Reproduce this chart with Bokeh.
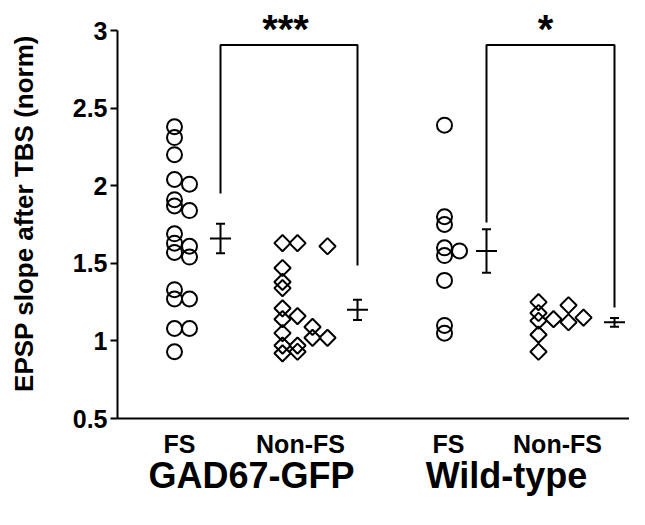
import numpy as np
from bokeh.plotting import figure
from bokeh.models import Range1d, FixedTicker, LinearAxis
from bokeh.embed import file_html
from bokeh.resources import INLINE
from bokeh.core.properties import value

# ---------------- data ----------------
categories = ["FS", "Non-FS", "FS", "Non-FS"]
groups = ["GAD67-GFP", "Wild-type"]
y_ticks = [0.5, 1, 1.5, 2, 2.5, 3]

gad_fs = [2.38, 2.31, 2.20, 2.04, 1.91, 1.87, 1.69, 1.63, 1.57, 1.33, 1.27, 1.08, 0.93,
          2.01, 1.84, 1.61, 1.54, 1.27, 1.08]
gad_fs_col = [0] * 13 + [1] * 6

gad_nonfs = [1.63, 1.47, 1.38, 1.34, 1.21, 1.14, 1.05, 0.97, 0.92,
             1.63, 1.16, 0.97, 0.93,
             1.09, 1.02,
             1.61, 1.02]
gad_nonfs_col = [0] * 9 + [1] * 4 + [2] * 2 + [3] * 2

wt_fs = [2.39, 1.80, 1.75, 1.60, 1.55, 1.39, 1.10, 1.05, 1.58]
wt_fs_col = [0] * 8 + [1]

wt_nonfs = [1.25, 1.18, 1.13, 1.04, 0.93, 1.14, 1.23, 1.12, 1.15]
wt_nonfs_col = [0] * 5 + [1] + [2] * 2 + [3]

means = [1.66, 1.20, 1.58, 1.12]
sems = [0.095, 0.065, 0.14, 0.028]

stars = ["***", "*"]
bracket_top = 2.907
bracket_left_bottom = [1.95, 1.763]
bracket_right_bottom = [1.486, 1.215]

# ---------------- layout (x in px-like units from the y axis) ----------------
cat_x = [62, 183, 331, 440]
group_x = [134, 389]
col0_x = [57, 165, 327, 421]
col_step = 15
err_x = [103, 240, 369, 497]
star_x = [168, 428]

FONT = "Liberation Sans"

p = figure(width=629, height=509, output_backend="svg", toolbar_location=None,
           x_range=Range1d(0, 512), y_range=Range1d(0.5, 3.142),
           min_border_left=117, min_border_right=0, min_border_top=8,
           min_border_bottom=91)
p.outline_line_color = None
p.grid.visible = False
p.background_fill_color = "white"

# y axis
ya = p.yaxis[0]
ya.ticker = FixedTicker(ticks=y_ticks)
ya.major_label_overrides = {0.5: "0.5", 1: "1", 1.5: "1.5", 2: "2", 2.5: "2.5", 3: "3"}
ya.bounds = (0.5, 3)
ya.axis_line_width = 2
ya.major_tick_line_width = 2
ya.major_tick_out = 7
ya.major_tick_in = 0
ya.minor_tick_out = 0
ya.minor_tick_in = 0
ya.major_label_standoff = 3
ya.major_label_text_font = FONT
ya.major_label_text_font_style = "bold"
ya.major_label_text_font_size = "25px"
ya.major_label_text_color = "black"
ya.axis_label = "EPSP slope after TBS (norm)"
ya.axis_label_text_font = FONT
ya.axis_label_text_font_style = "bold"
ya.axis_label_text_font_size = "26px"
ya.axis_label_text_color = "black"
ya.axis_label_standoff = 31

# x axis: only the line plus category labels
xa = p.xaxis[0]
xa.ticker = FixedTicker(ticks=cat_x)
xa.major_label_overrides = {cx: c for cx, c in zip(cat_x, categories)}
xa.axis_line_width = 2
xa.major_tick_out = 0
xa.major_tick_in = 0
xa.minor_tick_out = 0
xa.minor_tick_in = 0
xa.major_label_standoff = 11
xa.major_label_text_font = FONT
xa.major_label_text_font_style = "bold"
xa.major_label_text_font_size = "25px"
xa.major_label_text_color = "black"

# second axis below for the group names
xg = LinearAxis(ticker=FixedTicker(ticks=group_x),
                major_label_overrides={gx: g for gx, g in zip(group_x, groups)})
xg.axis_line_color = None
xg.major_tick_out = 0
xg.major_tick_in = 0
xg.minor_tick_out = 0
xg.minor_tick_in = 0
xg.major_label_standoff = -6
xg.major_label_text_font = FONT
xg.major_label_text_font_style = "bold"
xg.major_label_text_font_size = "36px"
xg.major_label_text_color = "black"
p.add_layout(xg, "below")

# points
def xs(i, cols):
    return [col0_x[i] + c * col_step for c in cols]

p.scatter(xs(0, gad_fs_col), gad_fs, marker="circle", size=15, line_width=2,
          line_color="black", fill_color=None)
p.scatter(xs(2, wt_fs_col), wt_fs, marker="circle", size=15, line_width=2,
          line_color="black", fill_color=None)
p.scatter(xs(1, gad_nonfs_col), gad_nonfs, marker="square", angle=np.pi / 4, size=11.5,
          line_width=2, line_color="black", fill_color=None)
p.scatter(xs(3, wt_nonfs_col), wt_nonfs, marker="square", angle=np.pi / 4, size=11.5,
          line_width=2, line_color="black", fill_color=None)

# mean +/- sem
m = np.array(means)
s = np.array(sems)
ex = np.array(err_x, dtype=float)
p.segment(x0=ex, y0=m - s, x1=ex, y1=m + s, line_width=2, line_color="black")
p.segment(x0=ex - 10.5, y0=m, x1=ex + 10.5, y1=m, line_width=2, line_color="black")
p.segment(x0=ex - 4.5, y0=m + s, x1=ex + 4.5, y1=m + s, line_width=2, line_color="black")
p.segment(x0=ex - 4.5, y0=m - s, x1=ex + 4.5, y1=m - s, line_width=2, line_color="black")

# significance brackets
for k in range(2):
    xl = err_x[2 * k]
    xr = err_x[2 * k + 1]
    p.line([xl, xl, xr, xr],
           [bracket_left_bottom[k], bracket_top, bracket_top, bracket_right_bottom[k]],
           line_width=2, line_color="black")

p.text(x=star_x, y=[3.01, 3.01], text=stars, text_align="center", text_baseline="middle",
       text_font=value(FONT), text_font_style="bold", text_font_size="40px",
       text_color="black")

open("out.html", "w").write(file_html(p, INLINE))
